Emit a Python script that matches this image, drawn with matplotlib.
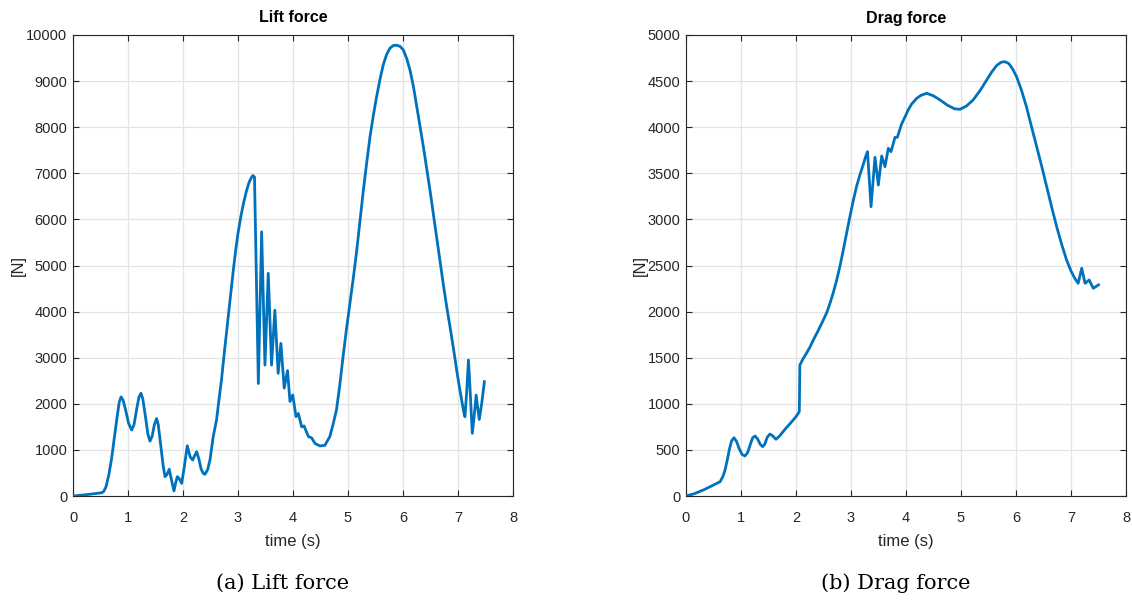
import matplotlib
matplotlib.use("Agg")
import matplotlib.pyplot as plt

# Lift force
lift_t = [0.0, 0.25, 0.52, 0.56, 0.60, 0.65, 0.70, 0.75, 0.80, 0.84, 0.873, 0.91, 0.96,
          1.01, 1.067, 1.11, 1.16, 1.20, 1.236, 1.27, 1.32, 1.36, 1.40, 1.44, 1.48, 1.52,
          1.55, 1.60, 1.64, 1.673, 1.71, 1.75, 1.79, 1.836, 1.87, 1.896, 1.93, 1.976,
          2.02, 2.078, 2.13, 2.176, 2.21, 2.248, 2.29, 2.33, 2.37, 2.40, 2.45, 2.49,
          2.55, 2.61, 2.65, 2.70, 2.75, 2.80, 2.86, 2.915, 2.96, 3.00, 3.05, 3.10, 3.15,
          3.20, 3.24, 3.27, 3.30, 3.37, 3.43, 3.49, 3.55, 3.61, 3.67, 3.73, 3.78, 3.84,
          3.90, 3.945, 3.995, 4.055, 4.097, 4.158, 4.20, 4.28, 4.34, 4.40, 4.49, 4.58,
          4.67, 4.73, 4.79, 4.85, 4.91, 4.97, 5.036, 5.10, 5.16, 5.22, 5.28, 5.34, 5.40,
          5.46, 5.52, 5.58, 5.64, 5.70, 5.76, 5.82, 5.885, 5.95, 6.006, 6.07, 6.127,
          6.19, 6.25, 6.31, 6.37, 6.43, 6.49, 6.55, 6.61, 6.67, 6.73, 6.79, 6.855, 6.92,
          6.976, 7.02, 7.067, 7.10, 7.127, 7.16, 7.19, 7.22, 7.26, 7.30, 7.33, 7.36,
          7.387, 7.43, 7.48]
lift_f = [0, 30, 70, 100, 200, 450, 800, 1250, 1700, 2030, 2150, 2080, 1850,
          1580, 1430, 1550, 1900, 2150, 2230, 2100, 1700, 1350, 1190, 1300, 1550, 1680,
          1550, 1050, 650, 420, 470, 580, 350, 110, 300, 420, 380, 275,
          600, 1090, 850, 780, 870, 960, 800, 580, 490, 470, 580, 780,
          1290, 1650, 2050, 2520, 3100, 3650, 4300, 4900, 5350, 5700, 6050, 6350, 6600,
          6800, 6900, 6950, 6920, 2440, 5730, 2840, 4830, 2840, 4030, 2660, 3310, 2340,
          2720, 2050, 2190, 1720, 1790, 1500, 1520, 1290, 1260, 1140, 1085, 1100,
          1290, 1560, 1865, 2400, 3020, 3600, 4180, 4760, 5340, 5990, 6640, 7230, 7790,
          8250, 8660, 9030, 9350, 9570, 9710, 9770, 9780, 9750, 9675, 9480, 9240,
          8880, 8450, 8020, 7580, 7110, 6640, 6130, 5625, 5110, 4615, 4140, 3670, 3180,
          2730, 2400, 2080, 1850, 1720, 2300, 2950, 2300, 1360, 1800, 2190, 1900,
          1660, 2000, 2480]

# Drag force
drag_t = [0.0, 0.15, 0.315, 0.47, 0.62, 0.67, 0.71, 0.75, 0.79, 0.83, 0.873, 0.92, 0.97,
          1.02, 1.073, 1.12, 1.17, 1.21, 1.255, 1.30, 1.35, 1.394, 1.43, 1.48, 1.527,
          1.58, 1.636, 1.70, 1.80, 1.90, 2.00, 2.06, 2.07, 2.13, 2.19, 2.25, 2.315,
          2.40, 2.497, 2.56, 2.618, 2.68, 2.74, 2.80, 2.86, 2.92, 2.98, 3.04, 3.10,
          3.16, 3.22, 3.26, 3.30, 3.364, 3.436, 3.497, 3.558, 3.618, 3.678, 3.727,
          3.80, 3.842, 3.92, 3.98, 4.04, 4.10, 4.195, 4.27, 4.376, 4.50, 4.62, 4.75,
          4.88, 4.98, 5.10, 5.22, 5.35, 5.467, 5.56, 5.65, 5.73, 5.80, 5.87, 5.94,
          6.01, 6.10, 6.19, 6.28, 6.376, 6.47, 6.558, 6.65, 6.74, 6.83, 6.92, 7.00,
          7.07, 7.13, 7.195, 7.255, 7.33, 7.405, 7.50]
drag_f = [0, 25, 65, 110, 155, 210, 282, 390, 510, 600, 632, 590, 510,
          450, 434, 470, 560, 630, 651, 620, 560, 535, 560, 640, 672,
          650, 615, 650, 723, 790, 860, 915, 1420, 1490, 1548, 1610, 1692,
          1790, 1909, 1990, 2090, 2210, 2343, 2495, 2668, 2850, 3030, 3200, 3355,
          3480, 3590, 3670, 3735, 3138, 3673, 3373, 3688, 3572, 3771, 3735,
          3890, 3890, 4035, 4110, 4187, 4250, 4313, 4345, 4368, 4340, 4295, 4240,
          4200, 4194, 4230, 4295, 4400, 4512, 4600, 4670, 4705, 4710, 4690, 4630,
          4548, 4400, 4222, 4010, 3789, 3570, 3355, 3130, 2920, 2730, 2560, 2440,
          2360, 2307, 2470, 2307, 2343, 2253, 2290]

titles = ["Lift force", "Drag force"]
captions = ["(a) Lift force", "(b) Drag force"]
y_limits = [(0, 10000), (0, 5000)]
y_steps = [1000, 500]

plt.rcParams["font.family"] = ["Liberation Sans", "DejaVu Sans"]

LINE = "#0072BD"
AX = "#262626"

fig = plt.figure(figsize=(11.32, 6.03), dpi=100)
lefts = [73 / 1132, 686 / 1132]
series = [(lift_t, lift_f), (drag_t, drag_f)]

for i in range(2):
    ax = fig.add_axes([lefts[i], 107 / 603, 440 / 1132, 461 / 603])
    t, f = series[i]
    ax.plot(t, f, color=LINE, lw=2.0, solid_joinstyle="round", zorder=3)
    ax.set_xlim(0, 8)
    ax.set_ylim(*y_limits[i])
    ax.set_xticks(range(0, 9))
    lo, hi = y_limits[i]
    ax.set_yticks(range(lo, hi + 1, y_steps[i]))
    ax.grid(True, color="#e3e3e3", lw=0.9, zorder=0)
    ax.tick_params(direction="in", length=4, width=0.8, colors=AX, labelsize=10.5,
                   top=True, right=True)
    ax.tick_params(axis="x", pad=11)
    ax.tick_params(axis="y", pad=4)
    for s in ax.spines.values():
        s.set_color(AX)
        s.set_linewidth(0.8)
    ax.set_title(titles[i], fontsize=11.5, fontweight="bold", color="black", pad=9)
    ax.set_xlabel("time (s)", fontsize=12, color=AX, labelpad=6)
    ax.set_ylabel("[N]", fontsize=12, color=AX, labelpad=0)
    # caption sits a little left of the axes centre, as in the reference
    cx = lefts[i] + 210 / 1132
    fig.text(cx, 1 - 583 / 603, captions[i], ha="center", va="center",
             fontsize=15, family="DejaVu Serif")

fig.savefig("out.png", dpi=100)
